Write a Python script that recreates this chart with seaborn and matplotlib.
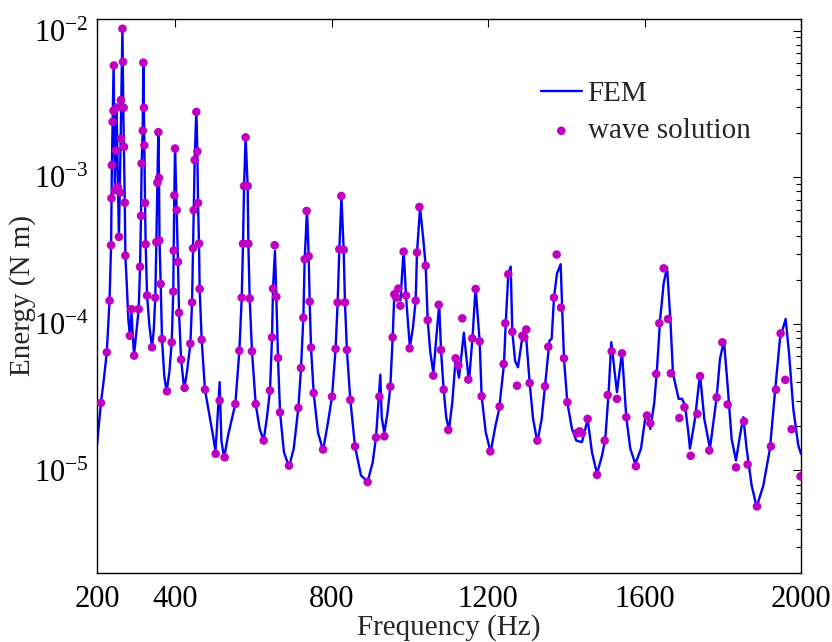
import matplotlib
matplotlib.use("Agg")
import matplotlib.pyplot as plt
import seaborn as sns
import numpy as np

# ---- FEM curve (frequency in Hz, energy in N m) ----
fem_freq = [200, 210, 218, 225, 232, 236, 238, 240, 242.5, 245.5, 250, 256, 260, 265, 267.5,
            271, 272.5, 276, 280, 284, 288, 294.6, 300, 306.6, 310, 312.5, 314.2, 316.8, 318.5,
            320.5, 322.7, 324.4, 328, 334, 340.6, 345, 349, 351.7, 354.3, 356.8, 358.5, 359.8,
            362.8, 366.2, 372, 378, 385, 391, 395, 396, 397.7, 399.5, 403.7, 407, 409.7, 415,
            423, 430, 438.7, 443, 445.5, 447.2, 449.7, 454, 456.6, 458.3, 460.8, 462.5, 467.6,
            476, 489, 496.6, 503, 513.6, 518, 525, 535, 553.7, 564, 570, 573.3, 576, 580, 585.2,
            587, 590.4, 596.3, 605.7, 616, 626, 634, 642.3, 647.5, 650, 655, 658.5, 662.8, 668,
            678, 691, 703, 714.8, 721.6, 727.6, 731, 737, 741.2, 743.8, 747.2, 754, 765, 778,
            790.6, 801, 810, 815.3, 819.6, 825, 830.7, 834, 839, 847.7, 859.7, 875, 892, 905,
            913.4, 920, 924.4, 928, 934.7, 943, 950, 956, 960.2, 968, 976, 984, 990, 1000, 1008,
            1014.8, 1018.2, 1026, 1033.5, 1040.4, 1045.5, 1052, 1060, 1068, 1075, 1079.6, 1086.4,
            1093, 1100, 1108.5, 1117, 1125.6, 1138, 1151, 1160, 1168, 1178.4, 1183.5, 1194,
            1206.5, 1219, 1228, 1240.6, 1245, 1251.7, 1257.7, 1262, 1269, 1276.4, 1288, 1296,
            1306.3, 1315, 1326, 1337, 1345.5, 1357, 1362.5, 1368.5, 1376, 1385.5, 1394, 1402.6,
            1414.5, 1425.6, 1440, 1448.6, 1454.5, 1465.6, 1478.4, 1491.2, 1499.7, 1508.2, 1515,
            1529.5, 1542.3, 1553.4, 1563.6, 1576.4, 1591, 1602, 1606, 1614.8, 1625, 1631.8,
            1640, 1649, 1657.6, 1666, 1672.7, 1687.2, 1695.7, 1703.4, 1712, 1716.2, 1729,
            1741.8, 1752.8, 1767.3, 1784.4, 1792.9, 1803.1, 1812.5, 1822.7, 1833.8, 1844,
            1852.6, 1861, 1873.9, 1886.7, 1903.7, 1920.7, 1933.5, 1946.3, 1960.8, 1969.3,
            1980.4, 1993.2, 2000]
fem_energy = [1.5e-5, 2.89e-5, 4.3e-5, 6.4e-5, 1.44e-4, 3.44e-4, 1.21e-3, 2.39e-3, 5.9e-3, 8.5e-4,
              3.0e-3, 3.9e-4, 1.5e-3, 1.03e-2, 2.6e-3, 6.7e-4, 2.9e-4, 1.9e-4, 1.08e-4, 8.3e-5,
              1.2e-4, 6.1e-5, 8.5e-5, 1.26e-4, 2.45e-4, 5.45e-4, 1.24e-3, 2.08e-3, 6.1e-3, 2.0e-3,
              6.7e-4, 3.5e-4, 1.56e-4, 9.7e-5, 6.9e-5, 9.0e-5, 1.51e-4, 3.6e-4, 9.2e-4, 2.05e-3,
              1.0e-3, 3.7e-4, 1.87e-4, 7.9e-5, 4.4e-5, 3.45e-5, 4.7e-5, 7.5e-5, 1.66e-4, 3.16e-4,
              7.5e-4, 1.6e-3, 6.0e-4, 2.65e-4, 1.19e-4, 5.7e-5, 3.6e-5, 4.7e-5, 7.3e-5, 1.4e-4,
              3.3e-4, 6.0e-4, 1.31e-3, 2.9e-3, 1.5e-3, 6.7e-4, 3.5e-4, 1.73e-4, 7.8e-5, 3.56e-5,
              2.25e-5, 1.73e-5, 1.35e-5, 4.0e-5, 1.6e-5, 1.22e-5, 1.73e-5, 2.84e-5, 6.56e-5,
              1.51e-4, 3.52e-4, 8.7e-4, 1.9e-3, 8.7e-4, 3.5e-4, 1.49e-4, 6.5e-5, 2.84e-5, 1.92e-5,
              1.6e-5, 2.25e-5, 3.5e-5, 8.1e-5, 1.74e-4, 3.15e-4, 1.53e-4, 5.85e-5, 2.49e-5,
              1.33e-5, 1.06e-5, 1.41e-5, 2.67e-5, 5.0e-5, 1.10e-4, 2.76e-4, 6.0e-4, 2.89e-4,
              1.42e-4, 6.9e-5, 3.38e-5, 1.82e-5, 1.37e-5, 2.13e-5, 3.19e-5, 6.75e-5, 1.40e-4,
              3.23e-4, 7.3e-4, 3.2e-4, 1.4e-4, 6.6e-5, 3.03e-5, 1.46e-5, 9.25e-6, 8.4e-6, 1.14e-5,
              1.68e-5, 3.0e-5, 4.5e-5, 2.3e-5, 1.8e-5, 2.5e-5, 3.73e-5, 8.1e-5, 1.59e-4, 1.55e-4,
              1.45e-4, 3.2e-4, 1.56e-4, 6.9e-5, 9.5e-5, 1.44e-4, 3.07e-4, 6.2e-4, 3.98e-4,
              2.49e-4, 1.06e-4, 6.5e-5, 4.6e-5, 8.3e-5, 1.36e-4, 6.6e-5, 3.56e-5, 2.3e-5, 1.9e-5,
              2.92e-5, 5.8e-5, 4.3e-5, 8.7e-5, 4.0e-5, 8.0e-5, 1.77e-4, 7.6e-5, 3.2e-5, 1.82e-5,
              1.33e-5, 2.03e-5, 2.6e-5, 5.3e-5, 1.0e-4, 2.2e-4, 2.46e-4, 8.8e-5, 5.6e-5, 5.05e-5,
              8.3e-5, 9.0e-5, 3.95e-5, 2.25e-5, 1.56e-5, 2.25e-5, 3.75e-5, 7.7e-5, 7.9e-5,
              1.51e-4, 2.2e-4, 2.55e-4, 5.8e-5, 2.9e-5, 1.92e-5, 1.6e-5, 1.56e-5, 1.92e-5,
              2.25e-5, 1.33e-5, 9.5e-6, 1.26e-5, 1.65e-5, 3.42e-5, 7.5e-5, 3.42e-5, 6.4e-5,
              2.3e-5, 1.41e-5, 1.11e-5, 1.41e-5, 2.3e-5, 2.4e-5, 1.92e-5, 2.92e-5, 4.92e-5,
              1.08e-4, 1.9e-4, 2.43e-4, 1.08e-4, 4.6e-5, 3.08e-5, 3.08e-5, 2.8e-5, 1.82e-5,
              1.41e-5, 2.25e-5, 4.55e-5, 2.25e-5, 1.41e-5, 3.15e-5, 5.77e-5, 7.67e-5, 3.79e-5,
              1.64e-5, 1.17e-5, 1.73e-5, 2.31e-5, 1.41e-5, 7.9e-6, 5.64e-6, 7.9e-6, 1.41e-5,
              3.42e-5, 7.9e-5, 1.08e-4, 6.4e-5, 2.63e-5, 1.48e-5, 1.3e-5]

# ---- wave solution points ----
wave_freq = [210, 225, 232, 236, 237, 238, 240, 242, 243, 246, 248.6, 251.2, 252.9, 256, 259.7,
             261, 261.5, 265, 266.5, 268.2, 269.1, 271, 272.5, 284, 288, 295, 306.5, 310, 312.5,
             314, 317, 321, 318.5, 320, 322.7, 324.4, 328, 340.6, 349, 351.7, 354.3, 356.8,
             358.5, 359.4, 362.8, 366.2, 379, 391, 395, 396, 397.7, 399.5, 403.7, 407, 409.7,
             415, 424, 438.7, 443, 445.5, 447.2, 449.7, 454, 456.6, 458.3, 460.8, 462.5, 467.6,
             476, 503.4, 513.6, 526.4, 553.7, 564, 570, 573.3, 576, 580, 585.2, 587, 590.4,
             596.3, 605.7, 626.2, 642.3, 647.5, 650, 654.3, 658.5, 662.8, 668, 691, 714.8,
             721.6, 727.6, 731, 736, 741.2, 743.8, 747.2, 754, 778, 801, 810, 815.3, 819.6,
             824.7, 830.7, 834, 839, 847.7, 859.7, 892, 913.4, 922, 934.7, 950, 956, 960.2,
             965.3, 970.5, 975.6, 984, 990, 999.4, 1014.8, 1018.2, 1024.2, 1040.4, 1045.5, 1060,
             1073.6, 1079.6, 1086.4, 1098.3, 1117, 1124, 1134, 1149.4, 1159.7, 1168.2, 1178.4,
             1183.5, 1205.7, 1229.5, 1239.8, 1244, 1251.7, 1262, 1274, 1287.5, 1292.6, 1297.7,
             1306.3, 1326, 1345.5, 1354, 1368.5, 1375.3, 1386.4, 1394, 1402.6, 1427.3, 1434,
             1440, 1454.5, 1478.4, 1498, 1505.7, 1516, 1529.5, 1542.3, 1553.4, 1578, 1606.3,
             1614.8, 1630, 1637.8, 1649, 1660, 1667.6, 1689, 1702, 1718, 1735, 1742, 1765.6,
             1784.4, 1799, 1812.5, 1834, 1854.3, 1863.6, 1887.5, 1923.3, 1936, 1948, 1960, 1976,
             1999]
wave_energy = [2.89e-5, 6.40e-5, 1.44e-4, 3.44e-4, 7.19e-4, 1.21e-3, 2.39e-3, 2.84e-3, 5.78e-3,
               8.15e-4, 1.52e-3, 2.99e-3, 8.59e-4, 3.92e-4, 7.85e-4, 3.36e-3, 1.83e-3, 1.03e-2,
               6.12e-3, 2.98e-3, 1.61e-3, 6.71e-4, 2.92e-4, 8.30e-5, 1.26e-4, 6.07e-5, 1.26e-4,
               2.45e-4, 5.45e-4, 1.24e-3, 2.08e-3, 1.65e-3, 6.05e-3, 2.98e-3, 6.68e-4, 3.49e-4,
               1.56e-4, 6.92e-5, 1.51e-4, 3.61e-4, 9.18e-4, 2.03e-3, 9.89e-4, 3.70e-4, 1.87e-4,
               7.89e-5, 3.47e-5, 7.48e-5, 1.66e-4, 3.16e-4, 7.53e-4, 1.57e-3, 5.96e-4, 2.65e-4,
               1.19e-4, 5.70e-5, 3.66e-5, 7.33e-5, 1.40e-4, 3.28e-4, 5.96e-4, 1.31e-3, 2.79e-3,
               1.50e-3, 6.68e-4, 3.53e-4, 1.73e-4, 7.80e-5, 3.56e-5, 1.30e-5, 3.00e-5, 1.23e-5,
               2.84e-5, 6.56e-5, 1.51e-4, 3.52e-4, 8.71e-4, 1.87e-3, 8.71e-4, 3.52e-4, 1.49e-4,
               6.50e-5, 2.84e-5, 1.60e-5, 3.51e-5, 8.09e-5, 1.74e-4, 3.44e-4, 1.53e-4, 5.85e-5,
               2.49e-5, 1.08e-5, 2.67e-5, 5.00e-5, 1.10e-4, 2.76e-4, 5.89e-4, 2.89e-4, 1.42e-4,
               6.89e-5, 3.38e-5, 1.39e-5, 3.19e-5, 6.75e-5, 1.40e-4, 3.23e-4, 7.45e-4, 3.20e-4,
               1.40e-4, 6.64e-5, 3.03e-5, 1.46e-5, 8.34e-6, 1.68e-5, 3.19e-5, 1.71e-5, 3.73e-5,
               8.09e-5, 1.59e-4, 1.51e-4, 1.74e-4, 1.33e-4, 3.11e-4, 1.56e-4, 6.81e-5, 1.44e-4,
               3.07e-4, 6.27e-4, 2.49e-4, 1.06e-4, 4.44e-5, 1.35e-4, 6.64e-5, 3.56e-5, 1.89e-5,
               5.82e-5, 5.19e-5, 1.09e-4, 4.17e-5, 7.96e-5, 1.73e-4, 7.60e-5, 3.21e-5, 1.35e-5,
               2.73e-5, 5.32e-5, 1.01e-4, 2.18e-4, 8.83e-5, 3.79e-5, 8.30e-5, 8.09e-5, 9.16e-5,
               3.95e-5, 1.60e-5, 3.75e-5, 6.98e-5, 1.51e-4, 2.97e-4, 1.29e-4, 5.82e-5, 2.92e-5,
               1.80e-5, 1.85e-5, 1.80e-5, 2.25e-5, 9.35e-6, 1.60e-5, 3.27e-5, 6.50e-5, 3.08e-5,
               6.30e-5, 2.31e-5, 1.07e-5, 2.37e-5, 2.10e-5, 4.55e-5, 1.01e-4, 2.39e-4, 1.08e-4,
               4.60e-5, 2.28e-5, 2.70e-5, 1.26e-5, 2.43e-5, 4.40e-5, 1.37e-5, 3.15e-5, 7.48e-5,
               2.82e-5, 1.05e-5, 2.16e-5, 1.10e-5, 5.69e-6, 1.46e-5, 3.56e-5, 8.61e-5, 4.15e-5,
               1.91e-5, 9.12e-6]

x_ticks = [200, 400, 800, 1200, 1600, 2000]
x_label = "Frequency (Hz)"
y_label = "Energy (N m)"
fem_name = "FEM"
wave_name = "wave solution"

sns.set_style("white")
plt.rcParams["font.family"] = ["Liberation Serif", "DejaVu Serif"]
plt.rcParams["mathtext.fontset"] = "custom"
plt.rcParams["mathtext.rm"] = "Liberation Serif"
plt.rcParams["mathtext.it"] = "Liberation Serif:italic"
plt.rcParams["axes.unicode_minus"] = False

fig = plt.figure(figsize=(8.32, 6.42), dpi=100)
ax = fig.add_axes([0.1166, 0.1075, 0.8461, 0.8629])

sns.lineplot(x=fem_freq, y=fem_energy, color="#0000ff", linewidth=1.7, estimator=None,
             sort=False, label=fem_name, ax=ax)
sns.scatterplot(x=wave_freq, y=wave_energy, color="#c000c0", s=38, edgecolor="none",
                label=wave_name, ax=ax, zorder=3)

ax.set_yscale("log")
ax.set_xlim(200, 2000)
ax.set_ylim(2e-6, 1.2e-2)
ax.set_xticks(x_ticks)
ax.set_xticklabels([str(t) for t in x_ticks])

for s in ax.spines.values():
    s.set_color("black")
    s.set_linewidth(1.0)
ax.tick_params(which="both", direction="in", top=True, right=True, colors="black",
               labelsize=22)
ax.tick_params(axis="x", pad=9)
ax.tick_params(axis="y", pad=6)
ax.tick_params(which="major", length=6, width=0.8)
ax.tick_params(which="minor", length=3.5, width=0.8)
ax.tick_params(axis="x", which="minor", bottom=False, top=False)

ax.set_xlabel(x_label, fontsize=21, labelpad=0)
ax.set_ylabel(y_label, fontsize=21, labelpad=-2)

leg = ax.legend(loc="upper left", bbox_to_anchor=(0.614, 0.91), frameon=False, fontsize=21,
                handlelength=1.4, handletextpad=0.2, labelspacing=0.38, borderaxespad=0)

fig.savefig("out.png", dpi=100)
